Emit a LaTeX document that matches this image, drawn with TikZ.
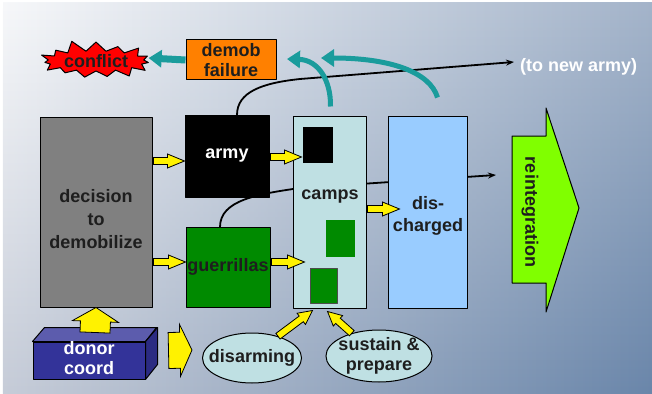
\documentclass[tikz,border=0pt]{standalone}
\usepackage{fontspec}
\setmainfont{Liberation Sans}
\usetikzlibrary{calc,shapes.symbols,shapes.geometric,arrows.meta,fadings}

\definecolor{bgUL}{HTML}{F7F8FA}
\definecolor{bgUR}{HTML}{A4B4CA}
\definecolor{bgLL}{HTML}{C6CCD8}
\definecolor{bgLR}{HTML}{6A86AA}
\definecolor{tealc}{HTML}{1A9C9C}
\definecolor{campc}{HTML}{BFE0E3}
\definecolor{dischc}{HTML}{99CCFF}
\definecolor{greenc}{HTML}{008A00}
\definecolor{limec}{HTML}{80FF00}
\definecolor{donorc}{HTML}{333399}
\definecolor{txtc}{HTML}{1E1E1E}

\tikzset{
  box/.style={draw=black, line width=1pt, inner sep=0pt, align=center, text=txtc},
  yelfill/.style={draw=black, line width=0.8pt, fill=yellow, line join=miter},
  tealarr/.style={draw=tealc, line width=5pt, -{Triangle[length=13pt,width=17pt]}},
  blackarr/.style={draw=black, line width=1.8pt, -{Stealth[length=8pt,width=6pt]}},
  blob/.style={ellipse, draw=black, line width=1pt, fill=campc, inner ysep=0pt, align=center, text=txtc}
}

% block arrow: from, to, half shaft, half head, head length
\newcommand\yelarrow[5]{%
  \path (#1) coordinate (ya) (#2) coordinate (yb);
  \path ($(yb)!#5!(ya)$) coordinate (yh);
  \draw[yelfill] ($(ya)!#3!90:(yb)$) -- ($(yh)!#3!-90:(ya)$) -- ($(yh)!#4!-90:(ya)$) -- (yb)
    -- ($(yh)!#4!90:(ya)$) -- ($(yh)!#3!90:(ya)$) -- ($(ya)!#3!-90:(yb)$) -- cycle;
}

\begin{document}
\begin{tikzpicture}[x=1pt, y=-1pt, font=\bfseries\fontsize{18}{21}\selectfont, line join=round]
  \fill[white] (0,0) rectangle (652,393);
  \useasboundingbox (0,0) rectangle (652,393);
  \shade[left color=bgUL, right color=bgUR] (3,3) rectangle (652,393);
  \shade[left color=bgLL, right color=bgLR, path fading=north] (3,3) rectangle (652,393);

  % coordinates the lines run to
  \coordinate (toreint) at (496,175);
  \coordinate (fail1) at (287,59);
  \coordinate (fail2) at (321,58);
  \node[anchor=west, text=white, inner sep=0pt] (newarmy) at (520,67) {(to new army)};

  % lines running behind the boxes
  \draw[blackarr] (220,227) .. controls (220,200) and (258,194) .. (300,188) -- (toreint);
  \draw[blackarr] (237,115) .. controls (237,92) and (262,83) .. (300,79) -- ($(newarmy.west)+(-6,-5)$);

  % top row
  \node[starburst, draw=black, line width=1pt, fill=red, text=txtc, inner sep=0pt,
        minimum width=120pt, minimum height=44pt, starburst points=15,
        starburst point height=12pt, random starburst=11] (conflict) at (96,61) {conflict};
  \node[box, fill=orange, minimum width=90pt, minimum height=40pt] (demob) at (231,60) {demob\\[-1pt]failure};

  % main boxes
  \node[box, fill=gray, minimum width=112pt, minimum height=190pt] (decision) at (96,212) {};
  \node[text=txtc, align=center, inner sep=0pt] (decisionlbl) at (96,219) {decision\\[2pt]to\\[2pt]demobilize};
  \node[box, fill=black, text=white, minimum width=84pt, minimum height=82pt] (army) at (227,156) {army};
  \node[box, fill=greenc, minimum width=84pt, minimum height=80pt] (guerrillas) at (228,267) {guerrillas};
  \node[box, fill=campc, minimum width=73pt, minimum height=192pt] (camps) at (329.5,212) {};
  \node[fill=black, minimum width=30pt, minimum height=36pt, inner sep=0pt] (sqarmy) at (318,145) {};
  \node[fill=greenc, minimum width=29pt, minimum height=37pt, inner sep=0pt] (sqguer) at (340.5,238.5) {};
  \node[fill=greenc, draw=black!70, line width=0.8pt, minimum width=27pt, minimum height=35pt, inner sep=0pt] (sqguer2) at (323.5,285.5) {};
  \node[text=txtc, inner sep=0pt] (campslbl) at (330,197) {camps};
  \node[box, fill=dischc, minimum width=79pt, minimum height=192pt] (discharged) at (427.5,212) {};
  \node[text=txtc, align=center, inner sep=0pt] (dischargedlbl) at (428,216) {dis-\\[1pt]charged};

  % reintegration block
  \draw[line width=1pt, fill=limec] (512,136) -- (546,136) -- (546,108) -- (579,208)
    -- (546,312) -- (546,283) -- (512,283) -- cycle;
  \node[rotate=-90, text=txtc, inner sep=0pt] (reint) at (530,212) {reintegration};

  % bottom row
  \node[fill=donorc, draw=black, line width=1pt, minimum width=112pt, minimum height=37pt,
        inner sep=0pt] (donor) at (89,360.5) {};
  \draw[fill=donorc!80!white, line width=1pt] (donor.north west) -- ++(12,-14) -- ++(112,0) -- (donor.north east) -- cycle;
  \draw[fill=donorc!85!black, line width=1pt] (donor.north east) -- ++(12,-14) -- ++(0,37) -- (donor.south east) -- cycle;
  \node[text=white, align=center, inner sep=0pt] (donorlbl) at (89,358) {donor\\[-1pt]coord};
  \node[blob, inner xsep=-8pt, minimum height=50pt] (disarming) at (252,358) {disarming};
  \node[blob, inner xsep=-3pt, inner ysep=-1pt, minimum height=52pt] (sustain) at (379,356) {sustain \&\\[-1pt]prepare};

  % yellow block arrows
  \yelarrow{$(decision.east |- army.west)+(1,5)$}{$(army.west)+(0,5)$}{3.5pt}{7pt}{17pt}
  \yelarrow{$(decision.east |- guerrillas.west)+(1,-5)$}{$(guerrillas.west)+(0,-5)$}{3.5pt}{7pt}{17pt}
  \yelarrow{$(army.east)+(1,1)$}{$(army.east -| camps.west)+(9,1)$}{3.5pt}{7pt}{17pt}
  \yelarrow{$(guerrillas.east)+(1,-5)$}{$(guerrillas.east -| camps.west)+(12,-5)$}{3.5pt}{7pt}{17pt}
  \yelarrow{$(camps.east)+(1,-3)$}{$(camps.east -| discharged.west)+(12,-3)$}{3.5pt}{7pt}{17pt}
  \yelarrow{disarming.40}{$(camps.south)+(-17,2)$}{3.5pt}{7pt}{14pt}
  \yelarrow{sustain.140}{$(camps.south)+(-2,3)$}{3.5pt}{7pt}{14pt}
  \yelarrow{$(donor.north)+(6,-9)$}{decision.south}{15pt}{23pt}{14pt}
  \yelarrow{$(donor.east)+(23,-10)$}{$(disarming.west)+(-10,-8)$}{18pt}{26pt}{12pt}

  % failures
  \draw[tealarr, line width=7pt] (demob.west) -- ($(conflict.east)+(2,-3)$);
  \draw[tealarr] ($(camps.north)+(1,-9)$) .. controls (331,80) and (318,60) .. (fail1);
  \draw[tealarr] ($(discharged.north)+(10,-18)$) .. controls (430,72) and (390,58) .. (fail2);
\end{tikzpicture}
\end{document}
